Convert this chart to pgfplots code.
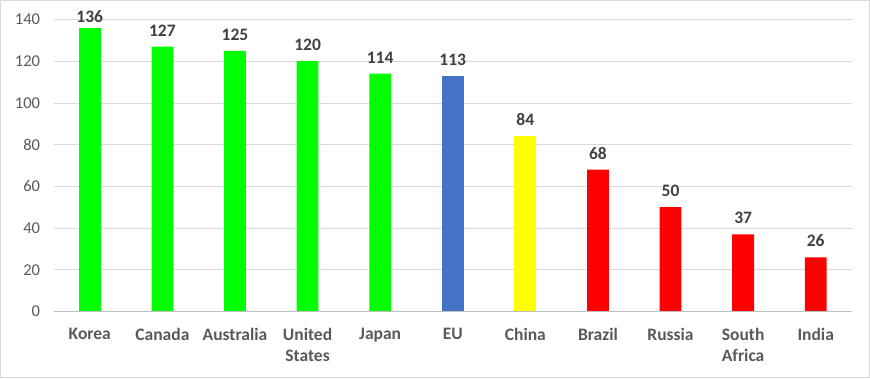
\documentclass[border=0pt]{standalone}
\usepackage{pgfplots}
\pgfplotsset{compat=1.18}
\usepackage{fontspec}
\setmainfont{Carlito}
\definecolor{tickgray}{HTML}{595959}
\definecolor{lblgray}{HTML}{404040}
\definecolor{gridgray}{HTML}{D9D9D9}
\definecolor{axgray}{HTML}{BFBFBF}
\definecolor{cgreen}{HTML}{00FF00}
\definecolor{cblue}{HTML}{4472C4}
\definecolor{cyellow}{HTML}{FFFF00}
\definecolor{cred}{HTML}{FF0000}
\begin{document}
\begin{tikzpicture}[x=1bp,y=1bp]
\useasboundingbox (0,0) rectangle (870,378);
\draw[gridgray,line width=1bp] (0.5,0.5) rectangle (869.5,377.5);
\begin{axis}[
  at={(53.5bp,66.5bp)}, anchor=south west,
  scale only axis, width=798.5bp, height=292bp,
  xmin=-0.5, xmax=10.5, ymin=0, ymax=140,
  ytick={0,20,...,140},
  xtick={0,...,10},
  xticklabels={Korea,Canada,Australia,{United\\States},Japan,EU,China,Brazil,Russia,{South\\Africa},India},
  xticklabel style={align=center, font=\fontsize{17.5bp}{21bp}\selectfont\bfseries, text=tickgray, yshift=-13bp},
  yticklabel style={font=\fontsize{16.5bp}{20bp}\selectfont, text=tickgray, xshift=-10bp},
  /pgf/number format/assume math mode=true,
  major tick length=0pt,
  axis line style={draw=none},
  ymajorgrids, grid style={gridgray, line width=0.8bp},
  ybar, bar width=0.3, bar shift=0pt,
  nodes near coords,
  every node near coord/.append style={font=\fontsize{17.5bp}{20bp}\selectfont\bfseries, text=lblgray, yshift=7bp},
  clip=false,
]
\addplot[draw=none, fill=cgreen, every node near coord/.append style={yshift=-5bp}] coordinates {(0,136)};
\addplot[draw=none, fill=cgreen] coordinates {(1,127) (2,125) (3,120) (4,114)};
\addplot[draw=none, fill=cblue] coordinates {(5,113)};
\addplot[draw=none, fill=cyellow] coordinates {(6,84)};
\addplot[draw=none, fill=cred] coordinates {(7,68) (8,50) (9,37) (10,26)};
\draw[axgray, line width=1bp] (axis cs:-0.5,0) -- (axis cs:10.5,0);
\end{axis}
\end{tikzpicture}
\end{document}
